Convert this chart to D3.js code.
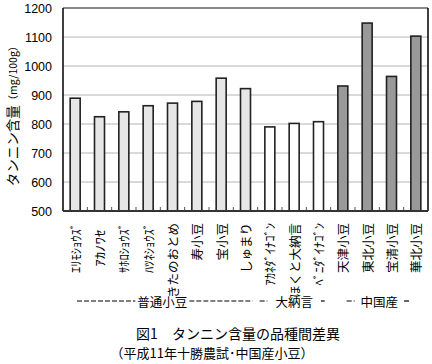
<!DOCTYPE html>
<html>
<head>
<meta charset="utf-8">
<script src="https://cdn.jsdelivr.net/npm/d3@7"></script>
<style>
  body { margin: 0; background: #fff; }
  svg { display: block; }
  .jp { font-family: "Noto Sans CJK JP", sans-serif; fill: #000; white-space: pre; }
</style>
</head>
<body>
<div id="chart"></div>
<script>
const width = 432;
const height = 364;
const margin = [8, 4, 153, 63]; // top, right, bottom, left

const categories = ["ｴﾘﾓｼｮｳｽﾞ", "ｱｶﾉﾜｾ  ", "ｻﾎﾛｼｮｳｽﾞ", "ﾊﾂﾈｼｮｳｽﾞ", "きたのおとめ", "寿小豆", "宝小豆", "しゅまり",
  "ｱｶﾈﾀﾞｲﾅｺﾞﾝ", "ほくと大納言", "ﾍﾞﾆﾀﾞｲﾅｺﾞﾝ", "天津小豆", "東北小豆", "宝清小豆", "華北小豆"];
const tannin = [889, 825, 842, 863, 872, 878, 958, 922, 790, 802, 808, 931, 1148, 964, 1103];
const group = ["普通小豆", "普通小豆", "普通小豆", "普通小豆", "普通小豆", "普通小豆", "普通小豆", "普通小豆",
  "大納言", "大納言", "大納言", "中国産", "中国産", "中国産", "中国産"];
const groupNames = ["普通小豆", "大納言", "中国産"];
const groupColors = ["#e6e6e6", "#ffffff", "#999999"];
const yTicks = [500, 600, 700, 800, 900, 1000, 1100, 1200];

const svg = d3.select("#chart").append("svg")
  .attr("width", width)
  .attr("height", height);

const x = d3.scaleBand()
  .domain(categories)
  .range([margin[3], width - margin[1]]);

const y = d3.scaleLinear()
  .domain([500, 1200])
  .range([height - margin[2], margin[0]]);

const color = d3.scaleOrdinal().domain(groupNames).range(groupColors);

// gridlines
svg.append("g")
  .selectAll("line")
  .data(yTicks.slice(1, -1))
  .enter()
  .append("line")
  .attr("x1", margin[3])
  .attr("x2", width - margin[1])
  .attr("y1", (d) => y(d))
  .attr("y2", (d) => y(d))
  .attr("stroke", "#b4b4b4")
  .attr("stroke-width", 1);

// y axis labels
const yAxis = d3.axisLeft(y).tickValues(yTicks).tickFormat(d3.format("d")).tickSize(0).tickPadding(11);
svg.append("g")
  .attr("transform", "translate(" + margin[3] + ",0)")
  .call(yAxis)
  .call((g) => g.select(".domain").remove())
  .selectAll("text")
  .attr("font-family", "Liberation Sans, Arial, sans-serif")
  .attr("font-size", 12.5)
  .attr("fill", "#000");

// bars
const barW = 10;
svg.append("g")
  .selectAll("rect")
  .data(categories)
  .enter()
  .append("rect")
  .attr("x", (d) => x(d) + x.bandwidth() / 2 - barW / 2)
  .attr("y", (d, i) => y(tannin[i]))
  .attr("width", barW)
  .attr("height", (d, i) => y(500) - y(tannin[i]))
  .attr("fill", (d, i) => color(group[i]))
  .attr("stroke", "#222")
  .attr("stroke-width", 1.6);

// frame
const x0 = margin[3], x1 = width - margin[1], yT = margin[0], yB = height - margin[2];
svg.append("line").attr("x1", x0).attr("x2", x1).attr("y1", yT).attr("y2", yT)
  .attr("stroke", "#888").attr("stroke-width", 2);
svg.append("line").attr("x1", x1).attr("x2", x1).attr("y1", yT).attr("y2", yB)
  .attr("stroke", "#000").attr("stroke-width", 1.5);
svg.append("line").attr("x1", x0).attr("x2", x0).attr("y1", yT).attr("y2", yB)
  .attr("stroke", "#000").attr("stroke-width", 1.5);

// x axis with small inner ticks at band edges
const edges = categories.map((d) => x(d)).slice(1);
svg.append("g")
  .selectAll("line")
  .data(edges)
  .enter()
  .append("line")
  .attr("x1", (d) => d)
  .attr("x2", (d) => d)
  .attr("y1", yB)
  .attr("y2", yB - 4)
  .attr("stroke", "#555")
  .attr("stroke-width", 1);
svg.append("line").attr("x1", x0).attr("x2", x1).attr("y1", yB).attr("y2", yB)
  .attr("stroke", "#333").attr("stroke-width", 2);

// category labels, rotated; half-width kana take half an em
const labelSize = 12.5;
function emWidth(s) {
  let w = 0;
  for (const ch of s) {
    const c = ch.charCodeAt(0);
    w += (c < 0x80 || (c >= 0xff61 && c <= 0xff9f)) ? 0.5 : 1;
  }
  return w * labelSize;
}
svg.append("g")
  .selectAll("text")
  .data(categories)
  .enter()
  .append("text")
  .attr("class", "jp")
  .attr("transform", (d) => "translate(" + (x(d) + x.bandwidth() / 2) + "," + (yB + 12) + ") rotate(-90)")
  .attr("text-anchor", "end")
  .attr("dominant-baseline", "central")
  .attr("font-size", labelSize)
  .attr("textLength", (d) => emWidth(d))
  .attr("lengthAdjust", "spacingAndGlyphs")
  .text((d) => d);

// y title
const yt = svg.append("text")
  .attr("class", "jp")
  .attr("transform", "translate(12," + ((yT + yB) / 2 + 4) + ") rotate(-90)")
  .attr("text-anchor", "middle")
  .attr("dominant-baseline", "central")
  .attr("font-size", 13.5);
yt.append("tspan").text("タンニン含量");
yt.append("tspan").attr("font-size", 10.5).text("（mg/100g）");

// group labels with dashed rules
const groupSpans = groupNames.map((g) => {
  const idx = categories.map((c, i) => i).filter((i) => group[i] === g);
  return {
    name: g,
    start: x(categories[idx[0]]),
    end: x(categories[idx[idx.length - 1]]) + x.bandwidth()
  };
});
const groupPad = [[14, 5, 2, 2], [2, 6, 0, 8], [16, 18, 0, 6]]; // left pad, right pad, offset, gap
const gy = 301;
const gSize = 12.5;
groupSpans.forEach((s, i) => {
  const p = groupPad[i];
  const cx = (s.start + s.end) / 2 + p[2];
  const half = s.name.length * gSize / 2;
  const a = s.start + p[0];
  const b = s.end - p[1];
  svg.append("line").attr("x1", a).attr("x2", cx - half - p[3]).attr("y1", gy).attr("y2", gy)
    .attr("stroke", "#000").attr("stroke-width", 1.2).attr("stroke-dasharray", "5,2");
  svg.append("line").attr("x1", cx + half + p[3]).attr("x2", b).attr("y1", gy).attr("y2", gy)
    .attr("stroke", "#000").attr("stroke-width", 1.2).attr("stroke-dasharray", "5,2");
  svg.append("text")
    .attr("class", "jp")
    .attr("x", cx)
    .attr("y", gy)
    .attr("text-anchor", "middle")
    .attr("dominant-baseline", "central")
    .attr("font-size", gSize)
    .text(s.name);
});

// titles
svg.append("text")
  .attr("class", "jp")
  .attr("x", 238)
  .attr("y", 333)
  .attr("text-anchor", "middle")
  .attr("dominant-baseline", "central")
  .attr("font-size", 14)
  .text("図1　タンニン含量の品種間差異");
svg.append("text")
  .attr("class", "jp")
  .attr("x", 212)
  .attr("y", 352)
  .attr("text-anchor", "middle")
  .attr("dominant-baseline", "central")
  .attr("font-size", 13)
  .text("（平成11年十勝農試･中国産小豆）");
</script>
</body>
</html>
